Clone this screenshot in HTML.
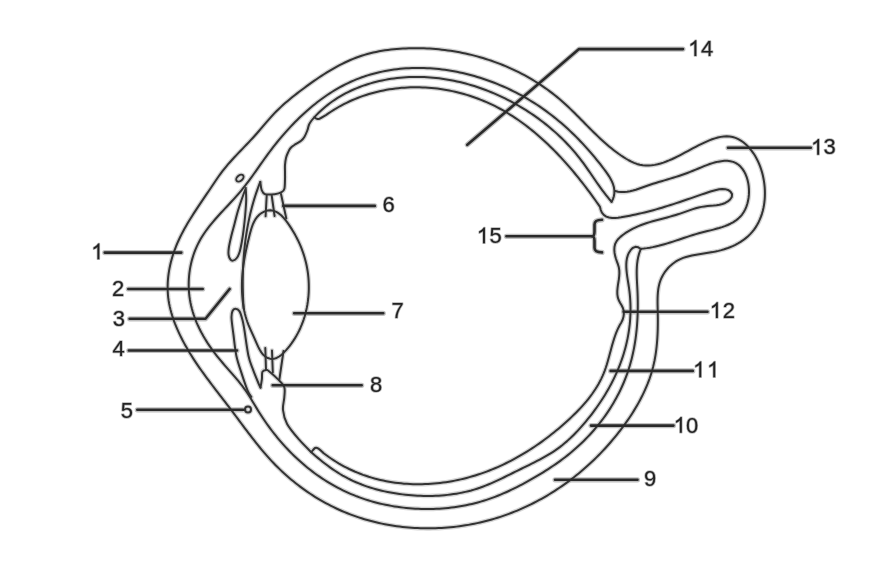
<!DOCTYPE html>
<html><head><meta charset="utf-8"><style>
html,body{margin:0;padding:0;background:#fff;}
svg{display:block;will-change:transform;}
path.g1{fill:#222;stroke:#b4b4b4;stroke-width:0.0682;paint-order:stroke;stroke-linejoin:round;}
path,ellipse,circle{fill:none;stroke:var(--mc,#333);stroke-width:var(--mw,2.00px);stroke-linejoin:round;stroke-linecap:round;}
path.lab{stroke-width:var(--lw,2.60px);stroke:var(--lc,#2a2a2a);}
use.halo{--mc:#d5d5d5;--mw:4.60px;--lc:#c0c0c0;--lw:5.20px;}
text{font-family:"Liberation Sans",sans-serif;font-size:22.0px;fill:#222;stroke:#b4b4b4;stroke-width:1.50px;paint-order:stroke;stroke-linejoin:round;}
</style></head><body>
<svg width="876" height="582" viewBox="0 0 876 582">
<rect width="876" height="582" fill="#fff"/>
<use href="#L" class="halo"/>
<g id="L">
<path d="M399.88,48.74 L402.88,48.55 L405.88,48.40 L408.88,48.28 L411.88,48.21 L414.88,48.18 L417.88,48.18 L420.88,48.23 L423.88,48.31 L426.88,48.44 L429.88,48.60 L432.87,48.80 L435.86,49.04 L438.85,49.32 L441.84,49.64 L444.82,49.99 L447.79,50.39 L450.76,50.82 L453.73,51.29 L456.68,51.80 L459.63,52.34 L462.58,52.92 L465.52,53.54 L468.44,54.20 L471.36,54.90 L474.27,55.63 L477.17,56.40 L480.06,57.21 L482.94,58.06 L485.81,58.94 L488.67,59.86 L491.51,60.82 L494.34,61.82 L497.16,62.85 L499.97,63.92 L502.75,65.03 L505.53,66.18 L508.29,67.36 L511.03,68.58 L513.76,69.84 L516.46,71.13 L519.15,72.46 L521.82,73.83 L524.48,75.24 L527.11,76.68 L529.72,78.16 L532.31,79.67 L534.88,81.23 L537.42,82.82 L539.94,84.45 L542.44,86.11 L544.91,87.81 L547.36,89.55 L549.78,91.32 L552.18,93.13 L554.54,94.98 L556.88,96.86 L559.19,98.78 L561.47,100.74 L563.71,102.72 L565.94,104.74 L568.13,106.79 L570.31,108.86 L572.46,110.94 L574.60,113.05 L576.73,115.17 L578.84,117.30 L580.95,119.43 L583.06,121.57 L585.16,123.71 L587.27,125.85 L589.38,127.98 L591.50,130.11 L593.63,132.22 L595.78,134.32 L597.94,136.40 L600.12,138.46 L602.33,140.49 L604.56,142.50 L606.82,144.48 L609.11,146.42 L611.43,148.33 L613.78,150.19 L616.17,152.01 L618.59,153.78 L621.05,155.49 L623.56,157.15 L626.10,158.74 L628.70,160.25 L631.36,161.64 L634.09,162.87 L636.90,163.92 L639.80,164.71 L642.75,165.24 L645.74,165.51 L648.74,165.52 L651.73,165.30 L654.70,164.87 L657.64,164.26 L660.54,163.49 L663.40,162.58 L666.22,161.55 L669.00,160.43 L671.75,159.23 L674.47,157.97 L677.17,156.65 L679.85,155.29 L682.51,153.90 L685.16,152.49 L687.80,151.07 L690.44,149.64 L693.09,148.22 L695.74,146.82 L698.40,145.44 L701.09,144.10 L703.79,142.79 L706.52,141.55 L709.29,140.38 L712.09,139.30 L714.93,138.34 L717.82,137.52 L720.75,136.88 L723.72,136.47 L726.72,136.31 L729.71,136.47 L732.67,136.97 L735.54,137.84 L738.28,139.06 L740.88,140.56 L743.33,142.29 L745.63,144.22 L747.79,146.30 L749.81,148.52 L751.69,150.86 L753.44,153.30 L755.05,155.83 L756.53,158.44 L757.88,161.12 L759.10,163.86 L760.20,166.65 L761.18,169.49 L762.05,172.36 L762.80,175.27 L763.43,178.20 L763.96,181.16 L764.37,184.13 L764.67,187.12 L764.85,190.11 L764.92,193.11 L764.87,196.11 L764.70,199.11 L764.41,202.10 L763.99,205.07 L763.44,208.02 L762.75,210.94 L761.93,213.83 L760.96,216.67 L759.85,219.45 L758.59,222.18 L757.17,224.82 L755.60,227.38 L753.87,229.83 L751.98,232.17 L749.95,234.37 L747.78,236.45 L745.49,238.38 L743.09,240.18 L740.59,241.85 L738.01,243.39 L735.36,244.80 L732.66,246.09 L729.89,247.26 L727.09,248.32 L724.24,249.28 L721.36,250.13 L718.46,250.88 L715.53,251.54 L712.58,252.11 L709.62,252.61 L706.66,253.07 L703.69,253.51 L700.72,253.95 L697.75,254.41 L694.80,254.92 L691.85,255.49 L688.93,256.17 L686.03,256.97 L683.19,257.92 L680.41,259.06 L677.73,260.41 L675.16,261.96 L672.73,263.72 L670.44,265.65 L668.31,267.77 L666.35,270.04 L664.57,272.46 L662.99,275.00 L661.61,277.67 L660.45,280.44 L659.52,283.29 L658.81,286.20 L658.29,289.16 L657.93,292.14 L657.71,295.13 L657.59,298.13 L657.55,301.13 L657.57,304.13 L657.63,307.13 L657.70,310.14 L657.76,313.14 L657.81,316.14 L657.84,319.14 L657.84,322.14 L657.81,325.14 L657.76,328.14 L657.68,331.14 L657.56,334.14 L657.40,337.14 L657.20,340.13 L656.96,343.12 L656.67,346.11 L656.34,349.09 L655.95,352.07 L655.50,355.04 L655.00,358.00 L654.44,360.95 L653.81,363.88 L653.12,366.80 L652.36,369.70 L651.53,372.59 L650.63,375.45 L649.67,378.30 L648.65,381.12 L647.57,383.92 L646.43,386.69 L645.23,389.45 L643.99,392.18 L642.69,394.89 L641.35,397.57 L639.95,400.23 L638.52,402.86 L637.04,405.48 L635.52,408.06 L633.96,410.63 L632.37,413.17 L630.74,415.69 L629.07,418.19 L627.38,420.67 L625.65,423.12 L623.89,425.55 L622.10,427.96 L620.29,430.35 L618.45,432.72 L616.58,435.07 L614.68,437.40 L612.76,439.71 L610.82,441.99 L608.85,444.25 L606.85,446.50 L604.83,448.71 L602.78,450.91 L600.71,453.08 L598.61,455.23 L596.49,457.35 L594.35,459.45 L592.18,461.52 L589.99,463.57 L587.77,465.60 L585.53,467.60 L583.27,469.57 L580.98,471.51 L578.67,473.43 L576.34,475.33 L573.99,477.19 L571.62,479.03 L569.22,480.84 L566.81,482.62 L564.37,484.37 L561.91,486.09 L559.43,487.78 L556.93,489.44 L554.41,491.08 L551.88,492.68 L549.32,494.25 L546.74,495.79 L544.15,497.29 L541.53,498.77 L538.90,500.21 L536.25,501.63 L533.59,503.00 L530.90,504.35 L528.20,505.66 L525.49,506.93 L522.76,508.18 L520.01,509.38 L517.24,510.56 L514.47,511.69 L511.68,512.80 L508.87,513.86 L506.05,514.89 L503.22,515.88 L500.37,516.84 L497.52,517.76 L494.65,518.64 L491.77,519.49 L488.88,520.29 L485.98,521.06 L483.06,521.79 L480.14,522.48 L477.21,523.14 L474.28,523.75 L471.33,524.33 L468.38,524.86 L465.42,525.36 L462.45,525.82 L459.48,526.24 L456.50,526.63 L453.52,526.97 L450.54,527.28 L447.55,527.55 L444.55,527.78 L441.56,527.97 L438.56,528.12 L435.56,528.23 L432.56,528.31 L429.56,528.34 L426.56,528.34 L423.56,528.30 L420.56,528.22 L417.56,528.10 L414.56,527.95 L411.57,527.75 L408.58,527.52 L405.59,527.24 L402.60,526.93 L399.62,526.57 L396.65,526.18 L393.68,525.74 L390.71,525.27 L387.76,524.76 L384.81,524.20 L381.86,523.61 L378.93,522.98 L376.01,522.30 L373.09,521.58 L370.19,520.83 L367.29,520.03 L364.41,519.19 L361.54,518.31 L358.69,517.38 L355.85,516.42 L353.02,515.41 L350.21,514.36 L347.41,513.27 L344.63,512.14 L341.87,510.97 L339.12,509.75 L336.40,508.49 L333.69,507.20 L331.00,505.86 L328.34,504.48 L325.69,503.07 L323.07,501.61 L320.46,500.12 L317.88,498.59 L315.32,497.03 L312.78,495.42 L310.27,493.78 L307.78,492.11 L305.31,490.40 L302.87,488.65 L300.45,486.87 L298.06,485.06 L295.70,483.21 L293.36,481.33 L291.04,479.42 L288.76,477.48 L286.50,475.50 L284.26,473.49 L282.06,471.46 L279.88,469.39 L277.74,467.29 L275.62,465.17 L273.53,463.01 L271.47,460.83 L269.44,458.62 L267.43,456.38 L265.45,454.13 L263.50,451.85 L261.56,449.56 L259.65,447.24 L257.76,444.92 L255.88,442.57 L254.02,440.22 L252.18,437.85 L250.34,435.47 L248.52,433.09 L246.71,430.70 L244.90,428.30 L243.10,425.90 L241.31,423.49 L239.52,421.08 L237.73,418.68 L235.93,416.27 L234.14,413.86 L232.34,411.46 L230.53,409.06 L228.72,406.67 L226.90,404.29 L225.07,401.90 L223.24,399.53 L221.41,397.15 L219.57,394.77 L217.74,392.40 L215.91,390.02 L214.08,387.64 L212.26,385.25 L210.45,382.86 L208.65,380.46 L206.86,378.05 L205.08,375.63 L203.31,373.21 L201.56,370.77 L199.83,368.32 L198.12,365.85 L196.43,363.37 L194.77,360.87 L193.13,358.35 L191.52,355.82 L189.94,353.27 L188.39,350.70 L186.88,348.11 L185.40,345.50 L183.95,342.87 L182.55,340.21 L181.19,337.54 L179.87,334.84 L178.60,332.12 L177.37,329.38 L176.20,326.62 L175.08,323.84 L174.02,321.03 L173.02,318.20 L172.09,315.34 L171.24,312.47 L170.46,309.57 L169.76,306.65 L169.16,303.71 L168.65,300.75 L168.25,297.78 L167.94,294.79 L167.75,291.80 L167.65,288.80 L167.65,285.80 L167.74,282.80 L167.93,279.80 L168.21,276.81 L168.58,273.84 L169.04,270.87 L169.58,267.92 L170.20,264.98 L170.90,262.06 L171.67,259.16 L172.52,256.28 L173.44,253.42 L174.42,250.59 L175.48,247.78 L176.59,244.99 L177.77,242.23 L179.01,239.50 L180.30,236.79 L181.64,234.11 L183.03,231.45 L184.46,228.81 L185.94,226.19 L187.44,223.60 L188.98,221.02 L190.55,218.46 L192.14,215.91 L193.75,213.38 L195.39,210.87 L197.04,208.36 L198.70,205.86 L200.37,203.37 L202.05,200.88 L203.73,198.40 L205.42,195.91 L207.10,193.43 L208.78,190.94 L210.46,188.45 L212.12,185.95 L213.80,183.46 L215.48,180.97 L217.18,178.50 L218.90,176.05 L220.66,173.62 L222.46,171.21 L224.31,168.85 L226.21,166.52 L228.14,164.23 L230.12,161.97 L232.13,159.74 L234.16,157.53 L236.21,155.34 L238.27,153.16 L240.35,150.99 L242.43,148.83 L244.51,146.67 L246.59,144.50 L248.66,142.33 L250.72,140.14 L252.76,137.95 L254.78,135.73 L256.78,133.48 L258.75,131.22 L260.70,128.94 L262.64,126.65 L264.58,124.36 L266.52,122.07 L268.49,119.80 L270.47,117.55 L272.49,115.33 L274.55,113.15 L276.66,111.01 L278.81,108.91 L280.99,106.86 L283.21,104.84 L285.46,102.85 L287.74,100.90 L290.05,98.98 L292.38,97.08 L294.73,95.22 L297.09,93.37 L299.47,91.54 L301.87,89.73 L304.27,87.94 L306.69,86.15 L309.11,84.39 L311.55,82.64 L314.01,80.91 L316.48,79.21 L318.96,77.53 L321.47,75.87 L323.99,74.24 L326.53,72.65 L329.09,71.08 L331.67,69.55 L334.27,68.05 L336.90,66.60 L339.55,65.19 L342.22,63.82 L344.92,62.50 L347.64,61.23 L350.38,60.02 L353.15,58.86 L355.94,57.76 L358.76,56.73 L361.60,55.77 L364.47,54.87 L367.35,54.04 L370.25,53.28 L373.17,52.57 L376.10,51.93 L379.05,51.35 L382.00,50.83 L384.97,50.36 L387.94,49.94 L390.92,49.57 L393.90,49.25 L396.89,48.97 Z"/>
<path d="M611.60,201.80 L612.92,199.10 L613.86,196.25 L614.35,193.29 L614.36,190.28 L613.93,187.31 L613.11,184.42 L611.99,181.63 L610.64,178.94 L609.11,176.35 L607.46,173.84 L605.72,171.39 L603.93,168.98 L602.10,166.59 L600.26,164.22 L598.39,161.86 L596.50,159.52 L594.59,157.20 L592.66,154.89 L590.71,152.61 L588.73,150.34 L586.74,148.09 L584.72,145.86 L582.68,143.66 L580.61,141.47 L578.53,139.31 L576.42,137.16 L574.29,135.04 L572.13,132.95 L569.95,130.88 L567.75,128.83 L565.52,126.81 L563.27,124.82 L561.00,122.85 L558.70,120.91 L556.38,118.99 L554.04,117.11 L551.67,115.26 L549.28,113.43 L546.87,111.64 L544.44,109.87 L541.98,108.14 L539.50,106.44 L537.00,104.78 L534.47,103.15 L531.93,101.55 L529.36,99.98 L526.77,98.45 L524.16,96.95 L521.54,95.49 L518.89,94.06 L516.23,92.67 L513.54,91.31 L510.85,89.99 L508.13,88.70 L505.40,87.45 L502.65,86.23 L499.88,85.05 L497.10,83.90 L494.31,82.79 L491.50,81.72 L488.68,80.69 L485.84,79.69 L482.99,78.73 L480.13,77.81 L477.26,76.92 L474.37,76.08 L471.47,75.27 L468.57,74.51 L465.65,73.78 L462.72,73.09 L459.79,72.45 L456.84,71.84 L453.89,71.28 L450.93,70.76 L447.96,70.28 L444.98,69.84 L442.00,69.45 L439.02,69.10 L436.03,68.80 L433.03,68.54 L430.03,68.33 L427.03,68.17 L424.03,68.05 L421.02,67.98 L418.01,67.95 L415.01,67.98 L412.00,68.05 L409.00,68.17 L406.00,68.35 L403.00,68.57 L400.01,68.85 L397.02,69.17 L394.03,69.55 L391.06,69.99 L388.09,70.47 L385.13,71.01 L382.19,71.61 L379.25,72.25 L376.33,72.96 L373.42,73.72 L370.52,74.53 L367.65,75.40 L364.79,76.32 L361.94,77.31 L359.12,78.34 L356.32,79.44 L353.54,80.59 L350.79,81.79 L348.06,83.05 L345.36,84.37 L342.68,85.74 L340.04,87.16 L337.42,88.64 L334.83,90.17 L332.26,91.74 L329.73,93.36 L327.23,95.02 L324.75,96.73 L322.30,98.47 L319.88,100.25 L317.49,102.08 L315.12,103.93 L312.79,105.83 L310.48,107.75 L308.20,109.71 L305.94,111.70 L303.71,113.72 L301.51,115.76 L299.34,117.84 L297.19,119.94 L295.06,122.07 L292.96,124.22 L290.89,126.40 L288.84,128.60 L286.82,130.82 L284.82,133.06 L282.84,135.33 L280.89,137.62 L278.96,139.93 L277.06,142.25 L275.18,144.60 L273.32,146.96 L271.49,149.35 L269.68,151.75 L267.89,154.16 L266.12,156.59 L264.37,159.04 L262.63,161.49 L260.89,163.94 L259.16,166.40 L257.43,168.86 L255.70,171.32 L253.96,173.77 L252.21,176.21 L250.44,178.65 L248.65,181.06 L246.85,183.46 L245.01,185.85 L243.15,188.20 L241.25,190.54 L239.32,192.84 L237.35,195.11 L235.35,197.36 L233.33,199.59 L231.30,201.80 L229.25,204.00 L227.19,206.20 L225.14,208.39 L223.08,210.58 L221.04,212.79 L219.01,215.01 L217.00,217.24 L215.01,219.50 L213.05,221.78 L211.13,224.09 L209.25,226.44 L207.42,228.82 L205.65,231.25 L203.94,233.72 L202.30,236.25 L200.74,238.82 L199.27,241.44 L197.90,244.11 L196.62,246.83 L195.44,249.60 L194.35,252.40 L193.36,255.24 L192.47,258.11 L191.67,261.01 L190.96,263.93 L190.35,266.87 L189.84,269.84 L189.42,272.81 L189.10,275.80 L188.87,278.80 L188.74,281.80 L188.70,284.81 L188.76,287.82 L188.91,290.82 L189.16,293.81 L189.50,296.80 L189.95,299.77 L190.49,302.73 L191.12,305.67 L191.85,308.59 L192.66,311.48 L193.56,314.35 L194.55,317.19 L195.61,320.00 L196.74,322.79 L197.95,325.54 L199.22,328.26 L200.57,330.95 L201.97,333.61 L203.43,336.24 L204.95,338.83 L206.53,341.39 L208.15,343.92 L209.83,346.42 L211.55,348.88 L213.32,351.31 L215.13,353.71 L216.98,356.08 L218.88,358.42 L220.80,360.73 L222.75,363.02 L224.72,365.29 L226.70,367.55 L228.69,369.81 L230.67,372.06 L232.66,374.32 L234.62,376.60 L236.57,378.89 L238.49,381.20 L240.38,383.54 L242.22,385.91 L244.02,388.32 L245.76,390.77 L247.45,393.26 L249.08,395.79 L250.67,398.34 L252.23,400.91 L253.78,403.49 L255.32,406.07 L256.87,408.64 L258.44,411.21 L260.05,413.75 L261.68,416.28 L263.34,418.78 L265.03,421.27 L266.75,423.73 L268.50,426.18 L270.29,428.60 L272.10,431.00 L273.94,433.37 L275.81,435.73 L277.71,438.05 L279.65,440.36 L281.61,442.63 L283.60,444.88 L285.63,447.11 L287.68,449.30 L289.76,451.47 L291.88,453.61 L294.02,455.72 L296.20,457.79 L298.40,459.84 L300.63,461.85 L302.90,463.83 L305.19,465.77 L307.51,467.68 L309.86,469.56 L312.24,471.39 L314.65,473.19 L317.09,474.96 L319.55,476.68 L322.04,478.36 L324.56,480.01 L327.10,481.61 L329.67,483.17 L332.27,484.68 L334.89,486.16 L337.53,487.59 L340.20,488.97 L342.89,490.31 L345.61,491.61 L348.34,492.85 L351.10,494.05 L353.88,495.20 L356.67,496.31 L359.49,497.36 L362.32,498.37 L365.17,499.33 L368.03,500.24 L370.91,501.11 L373.81,501.93 L376.71,502.70 L379.63,503.43 L382.56,504.11 L385.50,504.75 L388.44,505.34 L391.40,505.89 L394.36,506.39 L397.33,506.85 L400.31,507.26 L403.30,507.63 L406.28,507.96 L409.28,508.24 L412.28,508.48 L415.28,508.67 L418.28,508.82 L421.28,508.93 L424.29,508.99 L427.29,509.01 L430.30,508.99 L433.31,508.92 L436.31,508.81 L439.31,508.65 L442.31,508.45 L445.31,508.20 L448.30,507.91 L451.29,507.57 L454.27,507.19 L457.25,506.76 L460.22,506.28 L463.18,505.76 L466.13,505.19 L469.07,504.57 L472.00,503.91 L474.92,503.19 L477.83,502.43 L480.72,501.62 L483.60,500.75 L486.47,499.84 L489.32,498.88 L492.15,497.88 L494.97,496.83 L497.77,495.74 L500.56,494.60 L503.32,493.43 L506.08,492.22 L508.81,490.97 L511.53,489.69 L514.24,488.38 L516.93,487.04 L519.60,485.67 L522.26,484.27 L524.91,482.85 L527.55,481.40 L530.17,479.93 L532.79,478.45 L535.39,476.94 L537.98,475.41 L540.55,473.86 L543.12,472.29 L545.66,470.70 L548.20,469.08 L550.71,467.43 L553.21,465.76 L555.69,464.06 L558.15,462.33 L560.59,460.57 L563.01,458.78 L565.40,456.96 L567.77,455.11 L570.11,453.22 L572.42,451.30 L574.70,449.34 L576.95,447.35 L579.18,445.33 L581.37,443.27 L583.52,441.17 L585.65,439.05 L587.74,436.89 L589.80,434.70 L591.83,432.48 L593.82,430.22 L595.77,427.94 L597.69,425.62 L599.57,423.27 L601.41,420.90 L603.21,418.49 L604.98,416.06 L606.70,413.59 L608.38,411.10 L610.02,408.58 L611.62,406.04 L613.18,403.47 L614.69,400.87 L616.16,398.24 L617.58,395.59 L618.95,392.92 L620.28,390.22 L621.56,387.50 L622.79,384.76 L623.97,382.00 L625.11,379.21 L626.19,376.40 L627.22,373.58 L628.19,370.74 L629.11,367.87 L629.98,365.00 L630.80,362.10 L631.57,359.20 L632.28,356.28 L632.95,353.34 L633.57,350.40 L634.14,347.45 L634.66,344.49 L635.14,341.52 L635.58,338.55 L635.97,335.57 L636.32,332.58 L636.64,329.59 L636.91,326.60 L637.14,323.60 L637.34,320.60 L637.50,317.60 L637.62,314.59 L637.71,311.59 L637.77,308.58 L637.79,305.58 L637.78,302.57 L637.74,299.56 L637.67,296.56 L637.58,293.55 L637.45,290.55 L637.30,287.55 L637.13,284.54 L636.97,281.54 L636.83,278.54 L636.74,275.53 L636.70,272.53 L636.74,269.52 L636.88,266.52 L637.14,263.52 L637.54,260.54 L638.09,257.59 L638.81,254.67 L639.72,251.80 L640.80,249.00"/>
<path d="M611.60,201.80 L609.62,199.53 L607.70,197.22 L605.82,194.87 L603.98,192.48 L602.18,190.07 L600.41,187.64 L598.66,185.18 L596.94,182.72 L595.23,180.24 L593.53,177.76 L591.83,175.27 L590.13,172.79 L588.42,170.31 L586.70,167.84 L584.95,165.39 L583.18,162.95 L581.38,160.54 L579.55,158.16 L577.67,155.80 L575.77,153.47 L573.82,151.17 L571.84,148.91 L569.83,146.67 L567.78,144.46 L565.70,142.28 L563.59,140.14 L561.45,138.02 L559.28,135.94 L557.08,133.89 L554.84,131.87 L552.58,129.88 L550.30,127.92 L547.98,126.00 L545.64,124.11 L543.27,122.25 L540.88,120.43 L538.46,118.64 L536.01,116.88 L533.55,115.15 L531.06,113.46 L528.54,111.80 L526.01,110.18 L523.45,108.59 L520.88,107.03 L518.28,105.51 L515.66,104.02 L513.03,102.57 L510.37,101.15 L507.70,99.77 L505.01,98.42 L502.30,97.11 L499.57,95.84 L496.83,94.60 L494.07,93.40 L491.29,92.23 L488.50,91.11 L485.69,90.02 L482.87,88.97 L480.03,87.97 L477.18,87.00 L474.32,86.07 L471.44,85.19 L468.55,84.34 L465.65,83.54 L462.74,82.79 L459.82,82.07 L456.88,81.40 L453.94,80.77 L450.98,80.19 L448.02,79.66 L445.05,79.17 L442.07,78.73 L439.09,78.33 L436.10,77.98 L433.11,77.69 L430.11,77.44 L427.10,77.24 L424.10,77.09 L421.09,76.99 L418.08,76.94 L415.07,76.94 L412.06,76.99 L409.05,77.10 L406.04,77.26 L403.04,77.47 L400.04,77.73 L397.05,78.05 L394.06,78.42 L391.08,78.84 L388.11,79.32 L385.15,79.86 L382.20,80.45 L379.26,81.09 L376.33,81.79 L373.42,82.55 L370.52,83.37 L367.64,84.25 L364.78,85.18 L361.94,86.18 L359.12,87.23 L356.33,88.35 L353.56,89.53 L350.81,90.77 L348.10,92.08 L345.42,93.45 L342.77,94.88 L340.16,96.38 L337.59,97.94 L335.06,99.56 L332.57,101.26 L330.12,103.01 L327.73,104.84 L325.38,106.72 L323.09,108.67 L320.85,110.69 L318.67,112.76 L316.56,114.90 L314.50,117.10 C313.95,117.75 312.13,119.68 311.20,121.00 C310.27,122.32 309.55,123.42 308.90,125.00 C308.25,126.58 308.03,128.55 307.30,130.50 C306.57,132.45 305.53,134.98 304.50,136.70 C303.47,138.42 302.58,139.55 301.10,140.80 C299.62,142.05 297.32,143.05 295.60,144.20 C293.88,145.35 292.07,146.32 290.80,147.70 C289.53,149.08 288.80,150.78 288.00,152.50 C287.20,154.22 286.50,155.92 286.00,158.00 C285.50,160.08 285.17,162.67 285.00,165.00 C284.83,167.33 285.00,169.65 285.00,172.00 C285.00,174.35 285.10,176.32 285.00,179.10 C284.90,181.88 284.97,186.52 284.40,188.70 C283.83,190.88 283.22,191.28 281.60,192.20 C279.98,193.12 277.45,193.87 274.70,194.20 C271.95,194.53 267.27,194.88 265.10,194.20 C262.93,193.52 262.50,192.15 261.70,190.10 C260.90,188.05 260.53,183.27 260.30,181.90"/>
<path d="M260.30,181.90 L259.20,184.69 L258.14,187.50 L257.13,190.33 L256.15,193.16 L255.21,196.01 L254.31,198.88 L253.45,201.75 L252.63,204.64 L251.84,207.53 L251.09,210.44 L250.38,213.36 L249.70,216.28 L249.06,219.21 L248.45,222.15 L247.87,225.10 L247.33,228.05 L246.82,231.01 L246.35,233.97 L245.90,236.94 L245.49,239.91 L245.11,242.89 L244.76,245.87 L244.44,248.85 L244.15,251.84 L243.88,254.83 L243.65,257.82 L243.44,260.82 L243.27,263.81 L243.12,266.81 L242.99,269.81 L242.90,272.81 L242.83,275.81 L242.78,278.81 L242.76,281.81 L242.77,284.81 L242.80,287.81 L242.86,290.81 L242.94,293.81 L243.04,296.81 L243.17,299.81 L243.32,302.81 L243.50,305.81 L243.70,308.80"/>
<path d="M260.50,387.60 C260.73,386.20 261.58,381.83 261.90,379.20 C262.22,376.57 261.70,373.35 262.40,371.80 C263.10,370.25 265.00,370.00 266.10,369.90 C267.20,369.80 266.92,369.53 269.00,371.20 C271.08,372.87 276.05,377.25 278.60,379.90 C281.15,382.55 283.35,384.18 284.30,387.10 C285.25,390.02 284.52,393.58 284.30,397.40 C284.08,401.22 282.53,405.58 283.00,410.00 C283.47,414.42 284.40,418.95 287.10,423.90 C289.80,428.85 295.17,434.98 299.20,439.70 C303.23,444.42 309.28,450.12 311.30,452.20 L313.55,454.20 L315.82,456.17 L318.12,458.12 L320.44,460.03 L322.79,461.91 L325.17,463.76 L327.57,465.57 L330.01,467.34 L332.47,469.07 L334.96,470.76 L337.49,472.40 L340.04,473.99 L342.63,475.52 L345.26,476.99 L347.92,478.40 L350.61,479.75 L353.33,481.04 L356.07,482.27 L358.85,483.44 L361.65,484.55 L364.47,485.59 L367.31,486.58 L370.17,487.52 L373.05,488.39 L375.95,489.21 L378.86,489.98 L381.78,490.70 L384.72,491.36 L387.66,491.98 L390.62,492.54 L393.58,493.07 L396.56,493.54 L399.53,493.98 L402.52,494.37 L405.51,494.72 L408.50,495.03 L411.50,495.29 L414.50,495.51 L417.51,495.69 L420.51,495.82 L423.52,495.91 L426.53,495.95 L429.54,495.95 L432.55,495.89 L435.56,495.79 L438.57,495.64 L441.57,495.44 L444.57,495.19 L447.56,494.88 L450.55,494.52 L453.53,494.11 L456.50,493.64 L459.47,493.11 L462.42,492.53 L465.36,491.88 L468.29,491.18 L471.20,490.42 L474.09,489.59 L476.97,488.70 L479.82,487.75 L482.66,486.73 L485.47,485.66 L488.26,484.53 L491.03,483.36 L493.78,482.14 L496.52,480.89 L499.25,479.61 L501.96,478.31 L504.67,476.99 L507.36,475.66 L510.06,474.32 L512.75,472.98 L515.45,471.64 L518.15,470.31 L520.86,468.99 L523.56,467.67 L526.27,466.36 L528.97,465.03 L531.67,463.70 L534.36,462.35 L537.04,460.98 L539.71,459.59 L542.36,458.16 L544.99,456.69 L547.59,455.19 L550.17,453.64 L552.72,452.03 L555.23,450.37 L557.70,448.65 L560.12,446.87 L562.50,445.02 L564.82,443.10 L567.10,441.13 L569.33,439.11 L571.51,437.04 L573.65,434.93 L575.76,432.78 L577.83,430.59 L579.86,428.37 L581.86,426.12 L583.84,423.85 L585.78,421.55 L587.70,419.23 L589.58,416.89 L591.44,414.52 L593.26,412.12 L595.05,409.70 L596.81,407.26 L598.54,404.79 L600.23,402.30 L601.89,399.79 L603.50,397.25 L605.09,394.69 L606.63,392.11 L608.14,389.50 L609.60,386.87 L611.03,384.22 L612.41,381.55 L613.75,378.85 L615.04,376.14 L616.29,373.40 L617.50,370.64 L618.66,367.86 L619.77,365.06 L620.83,362.25 L621.84,359.41 L622.80,356.56 L623.71,353.69 L624.56,350.81 L625.36,347.90 L626.11,344.99 L626.80,342.06 L627.44,339.12 L628.01,336.16 L628.53,333.20 L628.99,330.22 L629.39,327.24 L629.74,324.25 L630.02,321.25 L630.23,318.25 L630.39,315.25 L630.49,312.24 L630.52,309.23 L630.50,306.22 L630.41,303.21 L630.26,300.20 L630.05,297.20 L629.77,294.20 L629.44,291.21 L629.04,288.23 L628.60,285.25 L628.13,282.28 L627.66,279.31 L627.21,276.33 L626.82,273.34 L626.51,270.35 L626.32,267.35 L626.29,264.34 L626.47,261.34 L626.94,258.36 L627.75,255.47 L628.95,252.71 L630.57,250.18 L632.65,248.01 L635.37,246.83 L638.30,247.34 L640.80,249.00"/>
<path d="M314.50,117.10 C314.83,117.35 315.67,118.33 316.50,118.60 C317.33,118.87 317.93,119.28 319.50,118.70 C321.07,118.12 324.83,115.70 325.90,115.10 L328.36,113.38 L330.86,111.71 L333.40,110.09 L335.97,108.52 L338.57,107.01 L341.20,105.55 L343.86,104.15 L346.55,102.80 L349.27,101.51 L352.01,100.28 L354.78,99.10 L357.57,97.98 L360.38,96.91 L363.21,95.90 L366.07,94.94 L368.94,94.05 L371.83,93.21 L374.73,92.42 L377.65,91.69 L380.58,91.02 L383.52,90.41 L386.48,89.84 L389.45,89.34 L392.42,88.89 L395.40,88.50 L398.39,88.16 L401.38,87.87 L404.38,87.64 L407.39,87.47 L410.39,87.34 L413.40,87.27 L416.41,87.26 L419.41,87.30 L422.42,87.39 L425.43,87.53 L428.43,87.72 L431.43,87.97 L434.42,88.26 L437.41,88.61 L440.39,89.01 L443.36,89.46 L446.33,89.96 L449.28,90.51 L452.23,91.11 L455.17,91.77 L458.09,92.46 L461.01,93.21 L463.91,94.01 L466.79,94.86 L469.67,95.75 L472.52,96.70 L475.36,97.69 L478.18,98.73 L480.99,99.82 L483.77,100.95 L486.54,102.13 L489.28,103.36 L492.01,104.64 L494.71,105.97 L497.39,107.33 L500.04,108.75 L502.68,110.20 L505.28,111.70 L507.87,113.24 L510.43,114.82 L512.96,116.44 L515.48,118.09 L517.97,119.78 L520.43,121.51 L522.87,123.27 L525.29,125.06 L527.68,126.88 L530.05,128.74 L532.39,130.62 L534.71,132.53 L537.01,134.47 L539.28,136.44 L541.54,138.44 L543.77,140.46 L545.97,142.50 L548.16,144.57 L550.32,146.66 L552.46,148.77 L554.58,150.90 L556.68,153.05 L558.76,155.23 L560.82,157.42 L562.86,159.63 L564.88,161.86 L566.88,164.10 L568.87,166.37 L570.83,168.65 L572.78,170.94 L574.70,173.25 L576.61,175.57 L578.51,177.91 L580.38,180.26 L582.24,182.63 L584.08,185.00 L585.91,187.39 L587.72,189.79 L589.52,192.21 L591.30,194.63 L593.07,197.06 L594.82,199.51 L596.56,201.96 L598.29,204.43 L600.00,206.90 L600.70,209.82 L601.91,212.56 L603.77,214.91 L606.24,216.60 L609.07,217.57 L612.05,217.96 L615.05,217.94 L618.04,217.68 L621.02,217.26 L623.98,216.76 L626.94,216.22 L629.89,215.66 L632.84,215.07 L635.78,214.45 L638.71,213.81 L641.64,213.13 L644.56,212.43 L647.47,211.70 L650.38,210.94 L653.28,210.16 L656.18,209.35 L659.06,208.52 L661.95,207.67 L664.82,206.80 L667.69,205.91 L670.55,205.00 L673.41,204.08 L676.27,203.14 L679.12,202.20 L681.97,201.24 L684.82,200.28 L687.66,199.31 L690.50,198.33 L693.34,197.36 L696.18,196.38 L699.02,195.40 L701.87,194.42 L704.71,193.44 L707.55,192.47 L710.41,191.54 L713.28,190.67 L716.19,189.91 L719.14,189.33 L722.12,189.02 L725.12,189.13 L728.01,189.92 L730.47,191.61 L732.04,194.14 L731.78,197.06 L730.09,199.53 L727.82,201.49 L725.21,202.98 L722.40,204.04 L719.49,204.76 L716.52,205.24 L713.54,205.57 L710.54,205.82 L707.55,206.08 L704.56,206.41 L701.60,206.88 L698.66,207.50 L695.75,208.27 L692.88,209.14 L690.03,210.09 L687.20,211.10 L684.37,212.12 L681.54,213.12 L678.69,214.08 L675.82,214.97 L672.94,215.82 L670.04,216.63 L667.14,217.41 L664.24,218.17 L661.33,218.93 L658.43,219.70 L655.52,220.48 L652.63,221.30 L649.75,222.15 L646.88,223.05 L644.04,224.00 L641.21,225.03 L638.42,226.14 L635.67,227.34 L632.96,228.64 L630.30,230.04 L627.71,231.56 L625.19,233.20 L622.75,234.95 L620.42,236.85 L618.28,238.96 L616.46,241.34 L615.14,244.04 L614.46,246.96 L614.31,249.95 L614.57,252.95 L615.14,255.89 L615.95,258.79 L616.94,261.63 L617.96,264.45 L618.81,267.33 L619.29,270.29 L619.38,273.30 L619.19,276.29 L618.83,279.28 L618.38,282.25 L617.92,285.22 L617.54,288.20 L617.30,291.19 L617.33,294.20 L617.73,297.17 L618.65,300.03 L620.04,302.69 L621.58,305.27 L622.90,307.96 L623.68,310.86 L623.85,313.85 L623.48,316.83 L622.62,319.71 L621.36,322.43 L619.80,325.00 L618.43,327.67 L617.18,330.40 L616.04,333.19 L615.01,336.01 L614.05,338.85 L613.16,341.72 L612.31,344.61 L611.51,347.50 L610.73,350.40 L609.95,353.31 L609.18,356.21 L608.38,359.10 L607.56,361.99 L606.69,364.87 L605.75,367.73 L604.75,370.56 L603.66,373.36 L602.47,376.12 L601.20,378.84 L599.84,381.52 L598.40,384.15 L596.88,386.74 L595.29,389.29 L593.62,391.79 L591.90,394.25 L590.11,396.67 L588.26,399.04 L586.37,401.37 L584.42,403.66 L582.43,405.91 L580.40,408.12 L578.33,410.30 L576.22,412.44 L574.09,414.56 L571.93,416.64 L569.74,418.70 L567.53,420.74 L565.30,422.75 L563.05,424.74 L560.78,426.70 L558.49,428.65 L556.17,430.57 L553.84,432.47 L551.49,434.34 L549.12,436.18 L546.74,438.01 L544.33,439.80 L541.90,441.57 L539.45,443.31 L536.98,445.03 L534.50,446.71 L531.99,448.37 L529.47,450.00 L526.92,451.60 L524.36,453.17 L521.78,454.71 L519.18,456.21 L516.56,457.69 L513.93,459.13 L511.27,460.54 L508.60,461.91 L505.91,463.25 L503.20,464.55 L500.48,465.82 L497.74,467.05 L494.98,468.24 L492.21,469.39 L489.42,470.51 L486.61,471.58 L483.79,472.62 L480.95,473.61 L478.10,474.56 L475.24,475.47 L472.36,476.33 L469.47,477.16 L466.57,477.94 L463.66,478.67 L460.74,479.36 L457.80,480.01 L454.86,480.61 L451.91,481.17 L448.95,481.68 L445.98,482.15 L443.00,482.57 L440.02,482.94 L437.04,483.27 L434.04,483.55 L431.05,483.78 L428.05,483.96 L425.05,484.10 L422.04,484.18 L419.04,484.22 L416.04,484.20 L413.03,484.14 L410.03,484.02 L407.03,483.85 L404.03,483.63 L401.04,483.35 L398.06,483.03 L395.08,482.65 L392.10,482.21 L389.14,481.72 L386.18,481.18 L383.24,480.58 L380.31,479.92 L377.39,479.21 L374.48,478.45 L371.59,477.62 L368.72,476.75 L365.87,475.81 L363.03,474.82 L360.22,473.77 L357.42,472.66 L354.65,471.50 L351.91,470.27 L349.19,469.00 L346.50,467.66 L343.83,466.27 L341.20,464.83 L338.60,463.33 L336.03,461.77 L333.49,460.16 L330.99,458.50 L328.52,456.79 L326.09,455.02 L323.70,453.20 C322.83,452.43 319.95,449.47 318.50,448.60 C317.05,447.73 316.20,447.40 315.00,448.00 C313.80,448.60 311.92,451.50 311.30,452.20"/>
<path d="M615.20,191.00 L618.11,191.73 L621.10,192.10 L624.10,192.12 L627.10,191.84 L630.06,191.31 L632.97,190.58 L635.85,189.71 L638.70,188.74 L641.53,187.73 L644.36,186.70 L647.20,185.70 L650.05,184.75 L652.91,183.82 L655.78,182.93 L658.66,182.06 L661.54,181.20 L664.43,180.35 L667.31,179.50 L670.20,178.64 L673.07,177.77 L675.95,176.88 L678.81,175.96 L681.67,175.01 L684.51,174.03 L687.33,172.99 L690.14,171.91 L692.93,170.79 L695.70,169.63 L698.47,168.46 L701.25,167.30 L704.04,166.17 L706.84,165.08 L709.67,164.06 L712.53,163.13 L715.42,162.31 L718.35,161.64 L721.32,161.14 L724.31,160.87 L727.32,160.86 L730.31,161.18 L733.23,161.90 L735.99,163.08 L738.50,164.73 L740.70,166.77 L742.60,169.10 L744.22,171.64 L745.57,174.32 L746.68,177.12 L747.55,179.99 L748.22,182.92 L748.67,185.90 L748.93,188.89 L749.00,191.90 L748.88,194.90 L748.56,197.89 L748.05,200.86 L747.33,203.78 L746.39,206.63 L745.22,209.40 L743.79,212.05 L742.10,214.53 L740.14,216.81 L737.95,218.87 L735.56,220.70 L733.03,222.31 L730.38,223.74 L727.65,224.99 L724.85,226.11 L722.01,227.10 L719.14,228.00 L716.25,228.83 L713.35,229.61 L710.43,230.35 L707.51,231.07 L704.59,231.80 L701.68,232.54 L698.77,233.32 L695.88,234.14 L693.00,235.01 L690.13,235.91 L687.27,236.83 L684.42,237.78 L681.56,238.74 L678.71,239.70 L675.86,240.65 L673.01,241.60 L670.14,242.52 L667.27,243.41 L664.39,244.26 L661.49,245.07 L658.58,245.82 L655.65,246.50 L652.71,247.12 L649.75,247.67 L646.78,248.13 L643.79,248.51 L640.80,248.80"/>
<path d="M245.80,188.00 C245.08,190.00 242.87,196.00 241.50,200.00 C240.13,204.00 238.77,208.00 237.60,212.00 C236.43,216.00 235.55,220.00 234.50,224.00 C233.45,228.00 232.25,232.00 231.30,236.00 C230.35,240.00 229.25,244.83 228.80,248.00 C228.35,251.17 228.32,253.07 228.60,255.00 C228.88,256.93 229.77,258.67 230.50,259.60 C231.23,260.53 231.95,260.87 233.00,260.60 C234.05,260.33 235.70,259.43 236.80,258.00 C237.90,256.57 238.77,254.67 239.60,252.00 C240.43,249.33 241.13,245.67 241.80,242.00 C242.47,238.33 243.03,234.50 243.60,230.00 C244.17,225.50 244.77,220.00 245.20,215.00 C245.63,210.00 246.10,204.33 246.20,200.00 C246.30,195.67 245.87,190.83 245.80,189.00"/>
<path d="M251.30,396.80 C250.67,395.72 249.05,394.00 247.50,390.30 C245.95,386.60 243.85,380.32 242.00,374.60 C240.15,368.88 237.82,362.60 236.40,356.00 C234.98,349.40 234.32,341.33 233.50,335.00 C232.68,328.67 231.67,322.00 231.50,318.00 C231.33,314.00 231.87,312.53 232.50,311.00 C233.13,309.47 234.15,308.78 235.30,308.80 C236.45,308.82 238.20,309.23 239.40,311.10 C240.60,312.97 241.67,316.85 242.50,320.00 C243.33,323.15 243.40,324.00 244.40,330.00 C245.40,336.00 247.05,349.35 248.50,356.00 C249.95,362.65 251.40,365.27 253.10,369.90 C254.80,374.53 257.47,380.85 258.70,383.80 C259.93,386.75 260.20,386.97 260.50,387.60"/>
<path d="M267.49,210.57 L270.49,210.31 L273.46,210.76 L276.26,211.85 L278.83,213.43 L281.16,215.33 L283.28,217.46 L285.25,219.74 L287.09,222.13 L288.83,224.59 L290.49,227.10 L292.10,229.64 L293.65,232.23 L295.13,234.85 L296.55,237.50 L297.91,240.19 L299.19,242.92 L300.40,245.68 L301.53,248.47 L302.59,251.29 L303.57,254.14 L304.47,257.01 L305.28,259.91 L306.02,262.83 L306.67,265.77 L307.23,268.73 L307.71,271.70 L308.10,274.69 L308.41,277.69 L308.63,280.69 L308.77,283.70 L308.83,286.71 L308.80,289.72 L308.69,292.73 L308.48,295.73 L308.20,298.73 L307.83,301.72 L307.37,304.70 L306.82,307.66 L306.18,310.60 L305.46,313.53 L304.64,316.43 L303.74,319.30 L302.74,322.14 L301.66,324.95 L300.48,327.72 L299.21,330.46 L297.86,333.14 L296.41,335.78 L294.87,338.37 L293.24,340.91 L291.53,343.38 L289.72,345.80 L287.84,348.14 L285.87,350.42 L283.80,352.61 L281.60,354.67 L279.21,356.50 L276.59,357.97 L273.72,358.86 L270.72,358.91 L267.83,358.07 L265.24,356.56 L263.03,354.52 L261.18,352.14 L259.61,349.58 L258.23,346.90 L256.98,344.16 L255.78,341.40 L254.58,338.63 L253.34,335.89 L252.10,333.15 L250.85,330.40 L249.64,327.64 L248.48,324.86 L247.40,322.05 L246.43,319.20 L245.57,316.32 L244.83,313.40 L244.19,310.46 L243.64,307.49 L243.17,304.52 L242.78,301.53 L242.47,298.54 L242.23,295.53 L242.05,292.53 L241.95,289.52 L241.91,286.51 L241.94,283.49 L242.03,280.48 L242.19,277.48 L242.41,274.47 L242.68,271.47 L243.01,268.48 L243.39,265.49 L243.82,262.51 L244.30,259.54 L244.82,256.57 L245.37,253.61 L245.97,250.66 L246.59,247.71 L247.25,244.77 L247.93,241.84 L248.63,238.91 L249.35,235.98 L250.10,233.07 L250.90,230.16 L251.79,227.29 L252.83,224.46 L254.07,221.72 L255.57,219.10 L257.36,216.69 L259.49,214.56 L261.93,212.80 L264.62,211.45 Z"/>
<path d="M266.7,195.5 L265.6,216.3 M271.7,195.5 L274.6,216.0 M281.0,194.0 L286.3,218.5 M265.3,348.0 L266.0,369.8 M272.0,350.5 L272.8,372.5 M283.5,351.0 L279.3,380.0"/>
<ellipse cx="239.9" cy="178.1" rx="4.2" ry="2.7" transform="rotate(-40.0 239.9 178.1)"/>
<path d="M104.7,252.6 H181.3 M128.3,289 H202.7 M129.6,318.8 H205.5 L229.6,289 M128.8,350.5 H237 M137.3,409.8 H245 M283.3,205.9 H374.8 M294.2,313.3 H383.3 M272.7,385.3 H361.7 M555,479.8 H637.5 M591,425.6 H673.5 M610.6,370.9 H692.8 M623.7,311.8 H707.5 M728,147.8 H810.8 M467.3,144.8 L579,49.1 H683 M506.4,236.3 H592" class="lab"/>
<path d="M602,219.8 Q594.5,219.8 594.5,224.5 V231.5 Q594.5,236.3 592,236.3 Q594.5,236.3 594.5,241 V247.8 Q594.5,252.4 602,252.4" class="lab"/>
<circle cx="248.0" cy="409.5" r="3.0"/>
</g>
<path class="g1" transform="translate(91.15 259.33) scale(22.00 -22.00)" d="M0.373,0 L0.285,0 L0.285,0.560 C0.262,0.538 0.232,0.516 0.198,0.497 C0.166,0.479 0.136,0.465 0.109,0.454 L0.109,0.539 C0.156,0.561 0.203,0.591 0.243,0.627 C0.283,0.663 0.310,0.697 0.318,0.716 L0.373,0.716 Z"/>
<text x="111.99" y="295.55">2</text>
<text x="112.64" y="325.76">3</text>
<text x="112.60" y="356.15">4</text>
<text x="120.69" y="417.80">5</text>
<text x="382.40" y="212.26">6</text>
<text x="391.44" y="318.36">7</text>
<text x="369.90" y="392.05">8</text>
<text x="644.01" y="486.11">9</text>
<path class="g1" transform="translate(673.60 432.83) scale(22.00 -22.00)" d="M0.373,0 L0.285,0 L0.285,0.560 C0.262,0.538 0.232,0.516 0.198,0.497 C0.166,0.479 0.136,0.465 0.109,0.454 L0.109,0.539 C0.156,0.561 0.203,0.591 0.243,0.627 C0.283,0.663 0.310,0.697 0.318,0.716 L0.373,0.716 Z"/>
<text x="685.90" y="432.61">0</text>
<path class="g1" transform="translate(693.00 377.28) scale(22.00 -22.00)" d="M0.373,0 L0.285,0 L0.285,0.560 C0.262,0.538 0.232,0.516 0.198,0.497 C0.166,0.479 0.136,0.465 0.109,0.454 L0.109,0.539 C0.156,0.561 0.203,0.591 0.243,0.627 C0.283,0.663 0.310,0.697 0.318,0.716 L0.373,0.716 Z"/>
<path class="g1" transform="translate(707.00 377.28) scale(22.00 -22.00)" d="M0.373,0 L0.285,0 L0.285,0.560 C0.262,0.538 0.232,0.516 0.198,0.497 C0.166,0.479 0.136,0.465 0.109,0.454 L0.109,0.539 C0.156,0.561 0.203,0.591 0.243,0.627 C0.283,0.663 0.310,0.697 0.318,0.716 L0.373,0.716 Z"/>
<path class="g1" transform="translate(709.65 318.08) scale(22.00 -22.00)" d="M0.373,0 L0.285,0 L0.285,0.560 C0.262,0.538 0.232,0.516 0.198,0.497 C0.166,0.479 0.136,0.465 0.109,0.454 L0.109,0.539 C0.156,0.561 0.203,0.591 0.243,0.627 C0.283,0.663 0.310,0.697 0.318,0.716 L0.373,0.716 Z"/>
<text x="722.75" y="317.90">2</text>
<path class="g1" transform="translate(810.90 154.68) scale(22.00 -22.00)" d="M0.373,0 L0.285,0 L0.285,0.560 C0.262,0.538 0.232,0.516 0.198,0.497 C0.166,0.479 0.136,0.465 0.109,0.454 L0.109,0.539 C0.156,0.561 0.203,0.591 0.243,0.627 C0.283,0.663 0.310,0.697 0.318,0.716 L0.373,0.716 Z"/>
<text x="823.50" y="154.46">3</text>
<path class="g1" transform="translate(688.15 55.88) scale(22.00 -22.00)" d="M0.373,0 L0.285,0 L0.285,0.560 C0.262,0.538 0.232,0.516 0.198,0.497 C0.166,0.479 0.136,0.465 0.109,0.454 L0.109,0.539 C0.156,0.561 0.203,0.591 0.243,0.627 C0.283,0.663 0.310,0.697 0.318,0.716 L0.373,0.716 Z"/>
<text x="700.95" y="55.55">4</text>
<path class="g1" transform="translate(476.75 243.23) scale(22.00 -22.00)" d="M0.373,0 L0.285,0 L0.285,0.560 C0.262,0.538 0.232,0.516 0.198,0.497 C0.166,0.479 0.136,0.465 0.109,0.454 L0.109,0.539 C0.156,0.561 0.203,0.591 0.243,0.627 C0.283,0.663 0.310,0.697 0.318,0.716 L0.373,0.716 Z"/>
<text x="489.59" y="242.85">5</text>
</svg>
</body></html>
